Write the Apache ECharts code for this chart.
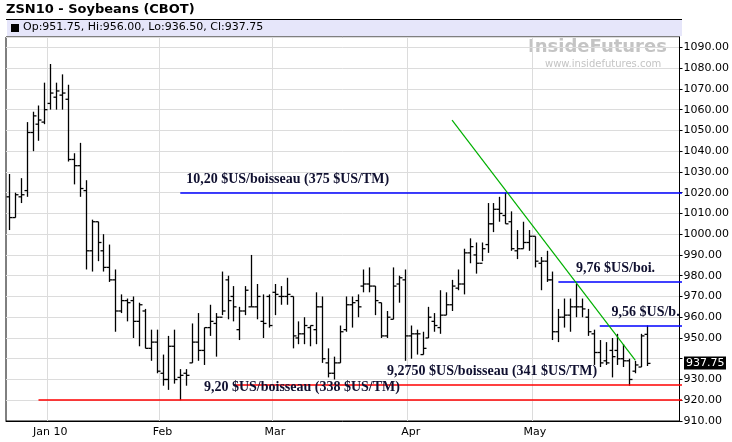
<!DOCTYPE html>
<html lang="en">
  <head>
    <meta charset="UTF-8" />
    <title>ZSN10 - Soybeans (CBOT)</title>
    <script src="https://cdn.jsdelivr.net/npm/echarts@6/dist/echarts.min.js"></script>
  </head>
  <style>
    body,
    html {
      margin: 0;
      height: 100%;
      background: #fff;
    }
  </style>
  <body>
    <div id="chart" style="width:732px;height:442px"></div>
  </body>
  <script>
    // trading days per month (Dec 2009 .. May 2010)
    var months = [
      { name: "Dec", label: "", days: [22, 23, 24, 28, 29, 30, 31] },
      { name: "Jan", label: "Jan 10", days: [4, 5, 6, 7, 8, 11, 12, 13, 14, 15, 19, 20, 21, 22, 25, 26, 27, 28, 29] },
      { name: "Feb", label: "Feb", days: [1, 2, 3, 4, 5, 8, 9, 10, 11, 12, 16, 17, 18, 19, 22, 23, 24, 25, 26] },
      { name: "Mar", label: "Mar", days: [1, 2, 3, 4, 5, 8, 9, 10, 11, 12, 15, 16, 17, 18, 19, 22, 23, 24, 25, 26, 29, 30, 31] },
      { name: "Apr", label: "Apr", days: [1, 5, 6, 7, 8, 9, 12, 13, 14, 15, 16, 19, 20, 21, 22, 23, 26, 27, 28, 29, 30] },
      { name: "May", label: "May", days: [3, 4, 5, 6, 7, 10, 11, 12, 13, 14, 17, 18, 19, 20, 21, 24, 25, 26, 27, 28] }
    ];

    var opens = [
      1018, 1008, 1018, 1021, 1049, 1053, 1054, 1063, 1066, 1067,
      1065, 1036, 1033, 1021, 992, 1006, 992, 984, 978, 963,
      968, 968, 958, 963, 945, 948, 933, 930, 946, 931,
      933, 938, 948, 944, 955, 957, 960, 978, 970, 954,
      963, 965, 965, 958, 970, 972, 970, 970, 970, 950,
      952, 955, 954, 965, 938, 933, 938, 954, 966, 968,
      975, 976, 975, 967, 951, 959, 976, 978, 951, 952,
      942, 950, 958, 955, 961, 966, 974, 976, 991, 990,
      986, 995, 1005, 1012, 1009, 1006, 992, 993, 996, 999,
      986, 987, 978, 953, 960, 961, 965, 965, 960, 952,
      943, 939, 944, 944, 940, 939, 934, 936, 951.75
    ];
    var highs = [
      1029, 1020, 1027, 1054, 1059, 1062, 1073, 1082, 1073, 1077,
      1072, 1039, 1044, 1026, 1007, 1006, 1000, 995, 983, 971,
      969, 970, 967, 964, 954, 954, 942, 951, 954, 935,
      935, 957, 962, 955, 966, 962, 982, 980, 975, 965,
      975, 990, 976, 971, 971, 976, 975, 979, 970, 958,
      960, 956, 972, 970, 945, 941, 956, 970, 970, 971,
      983, 984, 975, 967, 963, 984, 980, 983, 956, 954,
      953, 965, 962, 973, 972, 978, 983, 993, 998, 996,
      996, 1015, 1015, 1018, 1020, 1011, 1002, 1006, 1002, 999,
      989, 992, 982, 964, 969, 969, 976, 969, 964, 954,
      949, 948, 950, 952, 947, 940, 939, 952, 956
    ];
    var lows = [
      1002, 1008, 1015, 1018, 1040, 1045, 1053, 1060, 1060, 1060,
      1035, 1024, 1018, 983, 982, 987, 982, 977, 953, 962,
      958, 950, 946, 945, 939, 933, 927, 925, 928, 920,
      927, 938, 939, 937, 951, 941, 961, 959, 958, 949,
      961, 965, 959, 950, 955, 961, 966, 966, 945, 947,
      947, 946, 947, 938, 931, 930, 938, 953, 955, 960,
      972, 972, 961, 950, 950, 959, 967, 939, 940, 942,
      942, 950, 953, 952, 961, 963, 973, 971, 986, 981,
      987, 991, 1001, 1006, 1005, 992, 988, 993, 992, 984,
      973, 977, 949, 948, 955, 953, 960, 960, 951, 937,
      936, 937, 931, 937, 936, 927, 933, 936, 936.5
    ];
    var closes = [
      1008, 1019, 1019, 1049, 1057, 1055, 1060, 1068, 1069, 1068,
      1036, 1033, 1022, 992, 1006, 996, 984, 978, 963, 968,
      967, 958, 966, 945, 948, 934, 930, 946, 930, 932,
      932, 948, 944, 955, 958, 960, 963, 968, 965, 963,
      973, 965, 970, 957, 956, 971, 970, 971, 951, 952,
      956, 956, 965, 940, 933, 938, 953, 966, 967, 965,
      976, 975, 968, 951, 960, 975, 979, 951, 952, 952,
      945, 960, 956, 961, 966, 975, 976, 991, 994, 986,
      993, 1005, 1012, 1010, 1005, 993, 993, 996, 999, 987,
      987, 978, 953, 960, 961, 965, 965, 964, 953, 943,
      938, 938, 941, 940, 939, 930, 937, 951, 937.75
    ];

    // horizontal annotation levels: [value, start index, colour]
    var levels = [
      [1020, 29.3, "#0000ff"],
      [976.75, 93, "#0000ff"],
      [956, 100, "#0000ff"],
      [927.5, 38.2, "#ff0000"],
      [920, 4.6, "#ff0000"]
    ];
    var notes = [
      ["10,20 $US/boisseau (375 $US/TM)", 29.6, 1023],
      ["9,76 $US/boi.", 96.2, 980],
      ["9,56 $US/b.", 101.6, 959],
      ["9,2750 $US/boisseau (341 $US/TM)", 64.3, 930.3],
      ["9,20 $US/boisseau (338 $US/TM)", 32.6, 923]
    ];
    var trend = [[75.2, 1055], [105.9, 939.3]];

    var dates = [];
    var labelAt = {};
    months.forEach(function(m) {
      m.days.forEach(function(d, i) {
        if (i === 0 && m.label) labelAt[dates.length] = m.label;
        dates.push(m.name + " " + d);
      });
    });
    for (var k = 0; k < 5; k++) dates.push("");

    var ohlc = opens.map(function(o, i) {
      return [i, o, highs[i], lows[i], closes[i]];
    });

    function renderBar(params, api) {
      var x = api.value(0);
      var pH = api.coord([x, api.value(2)]);
      var pL = api.coord([x, api.value(3)]);
      var pO = api.coord([x, api.value(1)]);
      var pC = api.coord([x, api.value(4)]);
      var cx = Math.round(pH[0]) + 0.5;
      var st = { stroke: "#000", lineWidth: 1.3 };
      return {
        type: "group",
        children: [
          { type: "line", shape: { x1: cx, y1: pH[1], x2: cx, y2: pL[1] }, style: st },
          { type: "line", shape: { x1: cx - 3, y1: pO[1], x2: cx, y2: pO[1] }, style: st },
          { type: "line", shape: { x1: cx, y1: pC[1], x2: cx + 3, y2: pC[1] }, style: st }
        ]
      };
    }

    function isMonth(i) {
      return labelAt[i] !== undefined;
    }

    var option = {
      animation: false,
      backgroundColor: "#fff",
      grid: { left: 6, right: 50, top: 37, bottom: 21, show: true, borderColor: "#000", borderWidth: 1 },
      xAxis: {
        type: "category",
        data: dates,
        axisLine: { lineStyle: { color: "#000" } },
        axisTick: { interval: isMonth, length: 3, lineStyle: { color: "#000" } },
        axisLabel: {
          interval: isMonth,
          formatter: function(v, i) {
            return labelAt[i] || "";
          },
          color: "#000",
          fontSize: 11,
          fontFamily: "DejaVu Sans",
          margin: 6
        },
        splitLine: { show: true, interval: isMonth, lineStyle: { color: "#dcdcdc" } }
      },
      yAxis: {
        type: "value",
        position: "right",
        min: 910,
        max: 1095,
        interval: 10,
        axisLine: { show: true, lineStyle: { color: "#000" } },
        axisTick: { show: true, length: 3, lineStyle: { color: "#000" } },
        axisLabel: {
          showMaxLabel: false,
          formatter: function(v) {
            return v === 940 ? "" : v.toFixed(2);
          },
          color: "#000",
          fontSize: 11,
          fontFamily: "DejaVu Sans",
          margin: 4
        },
        splitLine: { lineStyle: { color: "#dcdcdc" } }
      },
      series: [
        {
          type: "custom",
          renderItem: renderBar,
          data: ohlc,
          encode: { x: 0, y: [1, 2, 3, 4] },
          clip: true
        }
      ],
      graphic: []
    };

    var chart = echarts.init(document.getElementById("chart"));
    chart.setOption(option);

    // overlays drawn in pixel space from data coordinates
    function px(i, v) {
      return chart.convertToPixel({ gridIndex: 0 }, [i, v]);
    }
    var right = 682;
    var g = [
      { type: "text", x: 6, y: 3, style: { text: "ZSN10 - Soybeans (CBOT)", font: "bold 13px DejaVu Sans", fill: "#000" } },
      { type: "rect", shape: { x: 7, y: 20, width: right - 7, height: 16 }, style: { fill: "#e6e6fa" } },
      { type: "line", shape: { x1: 6, y1: 19.5, x2: right, y2: 19.5 }, style: { stroke: "#000", lineWidth: 1 } },
      { type: "rect", shape: { x: 11, y: 24, width: 8, height: 8 }, style: { fill: "#000" } },
      { type: "text", x: 23, y: 22, style: { text: "Op:951.75, Hi:956.00, Lo:936.50, Cl:937.75", font: "11px DejaVu Sans", fill: "#000" } },
      { type: "text", x: 528, y: 38, style: { text: "InsideFutures", font: "bold 18px DejaVu Sans", fill: "#c4c4c4" } },
      { type: "text", x: 545, y: 59, style: { text: "www.insidefutures.com", font: "10px DejaVu Sans", fill: "#c4c4c4" } }
    ];
    levels.forEach(function(l) {
      var p = px(l[1], l[0]);
      var y = Math.round(p[1]);
      g.push({ type: "line", z: 100, shape: { x1: p[0], y1: y, x2: right, y2: y }, style: { stroke: l[2], lineWidth: 1.5 } });
    });
    var t0 = px(trend[0][0], trend[0][1]);
    var t1 = px(trend[1][0], trend[1][1]);
    g.push({ type: "line", z: 100, shape: { x1: t0[0], y1: t0[1], x2: t1[0], y2: t1[1] }, style: { stroke: "#00b000", lineWidth: 1.2 } });
    notes.forEach(function(n) {
      var p = px(n[1], n[2]);
      g.push({
        type: "text",
        z: 101,
        x: p[0],
        y: p[1],
        style: { text: n[0], font: "bold 14px Liberation Serif", fill: "#101030", textVerticalAlign: "bottom" }
      });
    });
    // last price tag on the price axis
    var lp = px(0, closes[closes.length - 1]);
    g.push({ type: "rect", z: 100, shape: { x: right + 2, y: lp[1] - 7, width: 42, height: 13 }, style: { fill: "#000" } });
    g.push({ type: "text", z: 101, x: right + 4, y: lp[1], style: { text: "937.75", font: "11px DejaVu Sans", fill: "#fff", textVerticalAlign: "middle" } });
    chart.setOption({ graphic: g });
  </script>
</html>
